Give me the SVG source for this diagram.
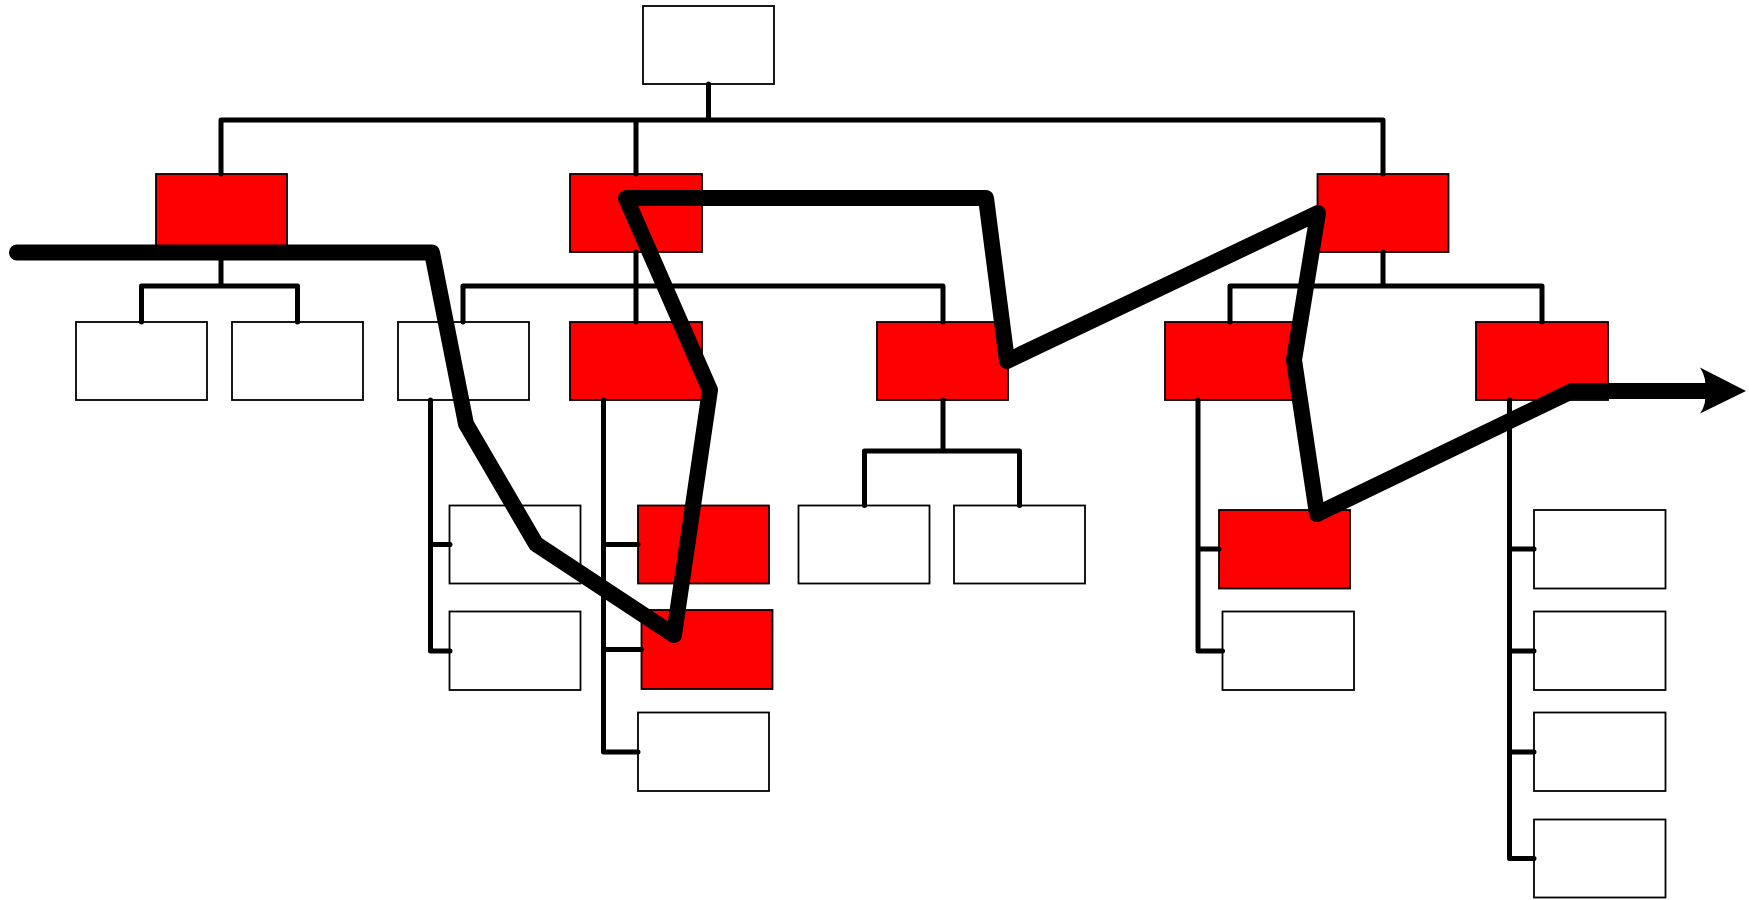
<svg xmlns="http://www.w3.org/2000/svg" width="1749" height="900" viewBox="0 0 1749 900">
<style>
.n{stroke:#000;stroke-width:1.8}
.w{fill:#fff}
.r{fill:#ff0000}
.c{fill:none;stroke:#000;stroke-width:5;stroke-linecap:round;stroke-linejoin:round}
.t{fill:none;stroke:#000;stroke-width:16;stroke-linecap:round;stroke-linejoin:round}
</style>
<rect width="1749" height="900" fill="#fff"/>
<g id="nodes">
<g id="root"><rect class="n w" x="643" y="6" width="131" height="78"/></g>
<g id="l1a"><rect class="n r" x="156" y="174" width="131" height="78"/></g>
<g id="l1b"><rect class="n r" x="570" y="174" width="132" height="78"/></g>
<g id="l1c"><rect class="n r" x="1317.5" y="174" width="131" height="78"/></g>
<g id="l2a"><rect class="n w" x="76" y="322" width="131" height="78"/></g>
<g id="l2b"><rect class="n w" x="232" y="322" width="131" height="78"/></g>
<g id="l2c"><rect class="n w" x="398" y="322" width="131" height="78"/></g>
<g id="l2d"><rect class="n r" x="570" y="322" width="132" height="78"/></g>
<g id="l2e"><rect class="n r" x="877" y="322" width="131" height="78"/></g>
<g id="l2f"><rect class="n r" x="1165" y="322" width="131" height="78"/></g>
<g id="l2g"><rect class="n r" x="1476" y="322" width="132" height="78"/></g>
<g id="l3a"><rect class="n w" x="449.5" y="505.5" width="131" height="78"/></g>
<g id="l3b"><rect class="n w" x="449.5" y="611.5" width="131" height="78.5"/></g>
<g id="l3c"><rect class="n r" x="638" y="505.5" width="131" height="78"/></g>
<g id="l3d"><rect class="n r" x="641.5" y="610" width="131" height="79"/></g>
<g id="l3e"><rect class="n w" x="638" y="712.5" width="131" height="78.5"/></g>
<g id="l3f"><rect class="n w" x="798.5" y="505.5" width="131" height="78"/></g>
<g id="l3g"><rect class="n w" x="954" y="505.5" width="131" height="78"/></g>
<g id="l3h"><rect class="n r" x="1219" y="510" width="131" height="78.5"/></g>
<g id="l3i"><rect class="n w" x="1222.5" y="611.5" width="131.5" height="78.5"/></g>
<g id="l3j"><rect class="n w" x="1534" y="510" width="131.5" height="78.5"/></g>
<g id="l3k"><rect class="n w" x="1534" y="611.5" width="131.5" height="78.5"/></g>
<g id="l3l"><rect class="n w" x="1534" y="712.5" width="131.5" height="78.5"/></g>
<g id="l3m"><rect class="n w" x="1534" y="819.5" width="131.5" height="78"/></g>
</g>
<g id="connectors">
<path class="c" d="M708.5,84 V120 M221,174 V120 H1383 V174 M636,120 V174"/>
<path class="c" d="M221,252 V286 M141.5,322 V286 H297.5 V322"/>
<path class="c" d="M636,252 V322 M463,322 V286 H943 V322"/>
<path class="c" d="M1383,252 V286 M1230,322 V286 H1542 V322"/>
<path class="c" d="M430.5,400 V651 H450 M430.5,544.5 H450"/>
<path class="c" d="M603.5,400 V752 H638 M603.5,544.5 H638 M603.5,649.5 H641.5"/>
<path class="c" d="M943,400 V451 M864.5,505.5 V451 H1019.5 V505.5"/>
<path class="c" d="M1198,400 V651 H1222.5 M1198,549 H1219"/>
<path class="c" d="M1509.5,400 V858.5 H1534 M1509.5,549 H1534 M1509.5,651 H1534 M1509.5,752 H1534"/>
</g>
<g id="route">
<path class="t" d="M17,252.5 L432,252.5 L466,424 L536,544 L674,635 L710,390 L626,198 L986,198 L1007,361 L1318,213 L1294,360 L1317,514 L1572,391 L1706,391"/>
<path d="M1746,391 L1700,367.5 Q1707,378 1705,391 Q1707,404 1700,413.5 Z" fill="#000"/>
</g>
</svg>
